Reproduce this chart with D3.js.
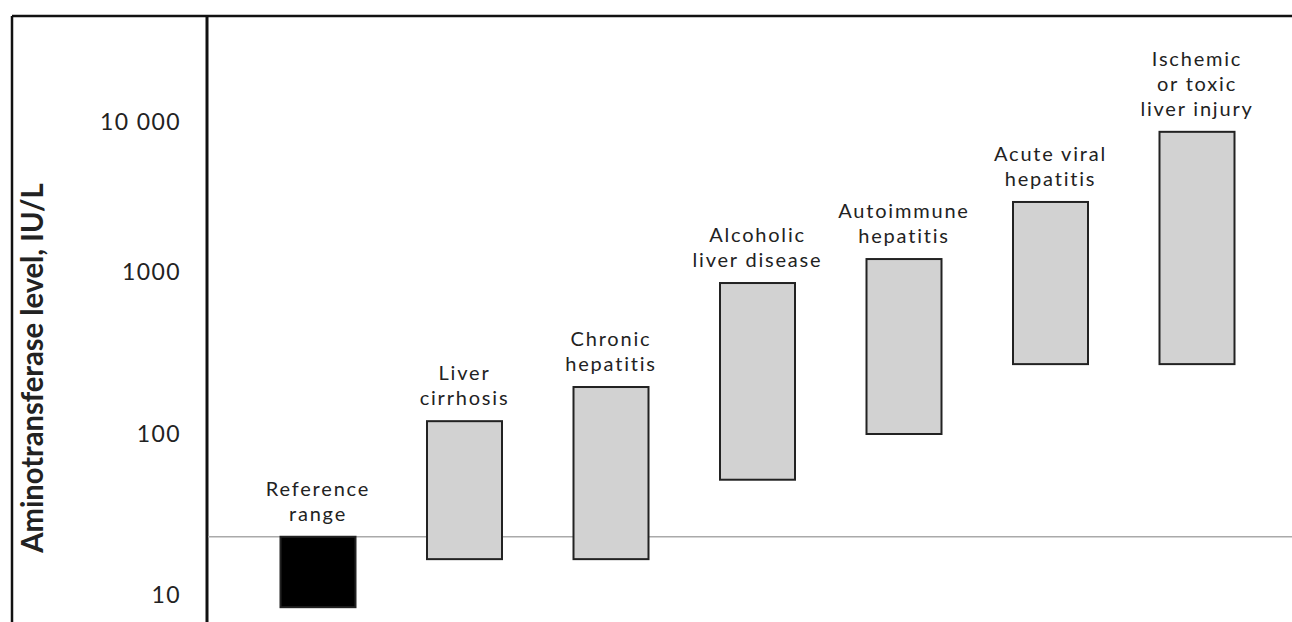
<!DOCTYPE html>
<html>
<head>
<meta charset="utf-8">
<script src="https://cdn.jsdelivr.net/npm/d3@7"></script>
<style>
  body { margin: 0; background: #fff; }
  text { font-family: Lato, "Open Sans", sans-serif; fill: #222; }
</style>
</head>
<body>
<div id="chart"></div>
<script>
// categories with their label lines
var categories = ["Reference range", "Liver cirrhosis", "Chronic hepatitis", "Alcoholic liver disease",
                  "Autoimmune hepatitis", "Acute viral hepatitis", "Ischemic or toxic liver injury"];
var labelLines = [["Reference", "range"], ["Liver", "cirrhosis"], ["Chronic", "hepatitis"],
                  ["Alcoholic", "liver disease"], ["Autoimmune", "hepatitis"],
                  ["Acute viral", "hepatitis"], ["Ischemic", "or toxic", "liver injury"]];
var lowValues  = [8.4, 16.7, 16.7, 52, 100, 270, 270];
var highValues = [23, 120, 195, 855, 1220, 2930, 8600];
var referenceUpper = 23;
var tickValues = [10, 100, 1000, 10000];
var tickLabels = ["10", "100", "1000", "10 000"];

var svg = d3.select("#chart").append("svg")
    .attr("width", 1292)
    .attr("height", 622);

// log scale (piecewise so the printed decades land where the figure has them)
var y = d3.scaleLog()
    .domain(tickValues)
    .range([595, 434, 272, 122]);

var x = d3.scalePoint()
    .domain(categories)
    .range([318, 1197]);
var barW = 75;

// frame: top and left border
svg.append("line")
    .attr("x1", 12).attr("x2", 1292)
    .attr("y1", 16).attr("y2", 16)
    .attr("stroke", "#111").attr("stroke-width", 2.5);
svg.append("line")
    .attr("x1", 12).attr("x2", 12)
    .attr("y1", 16).attr("y2", 622)
    .attr("stroke", "#111").attr("stroke-width", 2.5);

// y axis (line only, labels to the left)
var yAxis = d3.axisLeft(y)
    .tickValues(tickValues)
    .tickSize(0)
    .tickPadding(26)
    .tickFormat(function(d, i) { return tickLabels[i]; });

var gy = svg.append("g")
    .attr("transform", "translate(207,0)")
    .call(yAxis);
gy.select(".domain").remove();
gy.selectAll("text")
    .style("font-family", "Lato, 'Open Sans', sans-serif")
    .style("font-size", "23px")
    .style("letter-spacing", "1.4px")
    .attr("fill", "#2a2a2a");

svg.append("line")
    .attr("x1", 207).attr("x2", 207)
    .attr("y1", 16).attr("y2", 622)
    .attr("stroke", "#111").attr("stroke-width", 3);

// upper limit of reference range
svg.append("line")
    .attr("x1", 208).attr("x2", 1292)
    .attr("y1", y(referenceUpper)).attr("y2", y(referenceUpper))
    .attr("stroke", "#aaa").attr("stroke-width", 1.5);

// bars
svg.selectAll("rect.bar")
    .data(categories)
    .enter()
    .append("rect")
    .attr("class", "bar")
    .attr("x", d => x(d) - barW / 2)
    .attr("width", barW)
    .attr("y", (d, i) => y(highValues[i]))
    .attr("height", (d, i) => y(lowValues[i]) - y(highValues[i]))
    .attr("fill", (d, i) => i === 0 ? "#000" : "#d2d2d2")
    .attr("stroke", "#222")
    .attr("stroke-width", 2);

// category labels above each bar
categories.forEach(function(c, i) {
    var lines = labelLines[i];
    var base = y(highValues[i]) - 16;
    var t = svg.append("text")
        .attr("text-anchor", "middle")
        .style("font-size", "20px")
        .style("letter-spacing", "1.8px")
        .attr("fill", "#222");
    lines.forEach(function(l, j) {
        t.append("tspan")
            .attr("x", x(c))
            .attr("y", base - (lines.length - 1 - j) * 25)
            .text(l);
    });
});

// y axis title (condensed)
svg.append("text")
    .attr("transform", "translate(43,368) rotate(-90) scale(0.94,1)")
    .attr("text-anchor", "middle")
    .style("font-family", "Lato, 'Open Sans', sans-serif")
    .style("font-weight", "bold")
    .style("font-size", "31px")
    .attr("fill", "#111")
    .text("Aminotransferase level, IU/L");
</script>
</body>
</html>
